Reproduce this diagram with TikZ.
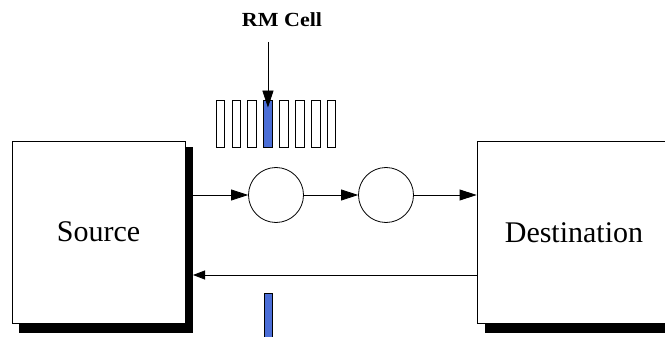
\documentclass[tikz,border=0pt]{standalone}
\usepackage{fontspec}
\setmainfont{Liberation Serif}
\usetikzlibrary{arrows.meta}
\definecolor{cellblue}{RGB}{75,110,215}
\begin{document}
\begin{tikzpicture}[x=1pt,y=-1pt,
  box/.style={draw=black,line width=0.8pt,fill=white,inner sep=0pt},
  cellbox/.style={draw=black,line width=0.8pt,fill=white,minimum width=8.5pt,minimum height=47pt,inner sep=0pt},
  queue/.style={draw=black,line width=0.8pt,circle,minimum size=55pt,inner sep=0pt},
  link/.style={line width=0.8pt,-{Triangle[length=17pt,width=11pt]}},
  lbl/.style={font=\fontsize{30}{34}\selectfont}]
\useasboundingbox (0,0) rectangle (665,337);
\clip (0,0) rectangle (665,337);
% Source with shadow
\node[box,minimum width=173pt,minimum height=182pt] (src) at (98.5,232) {};
\fill[black] ([shift={(7,10)}]src.south west) rectangle ([shift={(8,6)}]src.north east);
\node[box,minimum width=173pt,minimum height=182pt,lbl] at (src.center) {Source};
% Destination with shadow
\node[box,minimum width=203pt,minimum height=182pt] (dst) at (578.5,232) {};
\fill[black] ([shift={(8,10)}]dst.south west) rectangle ([shift={(8,6)}]dst.north east);
\node[box,minimum width=203pt,minimum height=182pt,anchor=center] at (dst.center) {};
\node[lbl] at (574,233) {Destination};
% queues
\node[queue] (q1) at (276,195) {};
\node[queue] (q2) at (386,195) {};
% forward arrows
\draw[link] (src.east|-q1.west) ++(8,0) -- (q1.west);
\draw[link] (q1.east) -- (q2.west);
\draw[link] (q2.east) -- (q2.east-|dst.west);
% return arrow
\coordinate (ret) at (477,275);
\draw[link,-{Triangle[length=12pt,width=9pt]}] (ret) -- (193,275);
% cells
\foreach \i in {0,...,7}{
  \node[cellbox] (c\i) at ({220.25+\i*15.9},123.5) {};
}
\node[cellbox,fill=cellblue] at (c3.center) {};
% RM cell label
\node[font=\fontsize{20}{24}\selectfont\bfseries,xscale=1.1] (rm) at (282,20) {RM Cell};
\draw[link] (c3.north|-0,42) -- ([yshift=-8]c3.north);
% returning RM cell
\node[cellbox,fill=cellblue,minimum height=60pt] (rmb) at (268.5,323) {};
\end{tikzpicture}
\end{document}
